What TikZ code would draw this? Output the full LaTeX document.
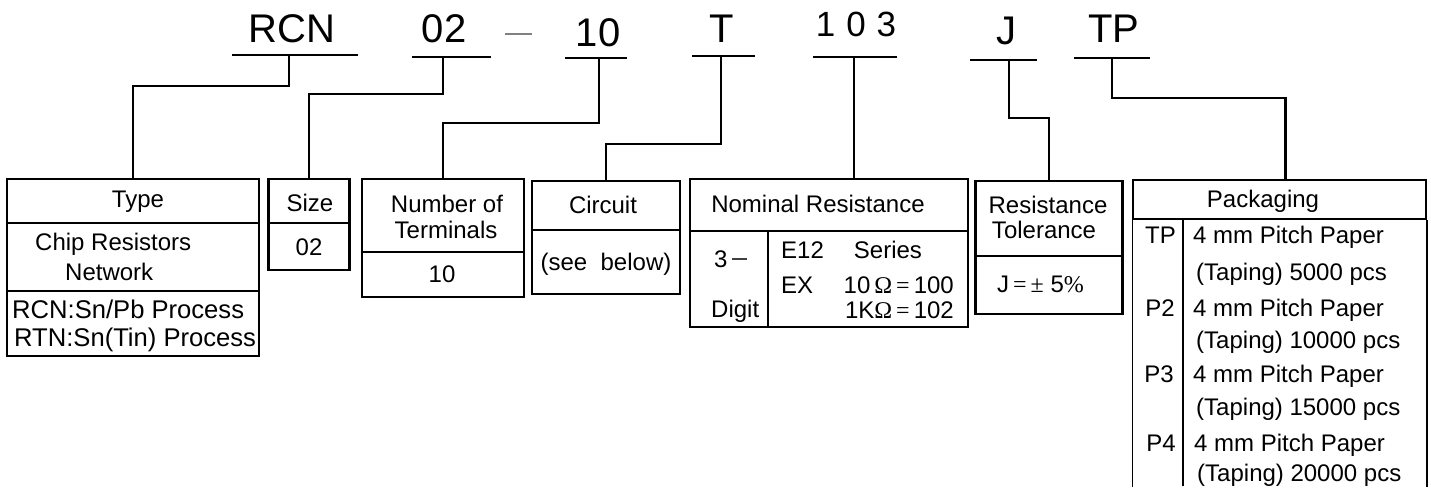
\documentclass[tikz,border=0pt]{standalone}
\usepackage{fontspec}
\setmainfont{Liberation Sans}
\newfontfamily\symfont{Liberation Serif}

\begin{document}
\begin{tikzpicture}[
    x=1pt, y=-1pt,
    code/.style={anchor=base, inner sep=0pt, font=\fontsize{40}{44}\selectfont},
    txt/.style={anchor=base, inner sep=0pt, font=\fontsize{24}{28}\selectfont},
    box/.style={draw, line width=2.8pt, inner sep=0pt},
    openbox/.style={draw, line width=1.5pt, inner sep=0pt},
    wire/.style={line width=2.8pt},
    fine/.style={line width=1.5pt}
]
\useasboundingbox (0,0) rectangle (1431,495);

% part number on top
\node[code] (rcn) at (292,42) {RCN};
\node[code] (size-code) at (444,42) {02};
\node[inner sep=0pt] (dash) at (518.5,34) {\color{gray}\rule{27pt}{1.3pt}};
\node[code] (term-code) at (598,47) {10};
\node[code] (circ-code) at (722,43) {T};
\node[code, font=\fontsize{35}{38}\selectfont] (res-code) at (856,37) {1\hspace{11pt}0\hspace{11pt}3};
\node[code] (tol-code) at (1006,45) {J};
\node[code] (pack-code) at (1114,42) {TP};

\draw[wire] (232,55) -- (358,55);
\draw[wire] (412,57) -- (491,57);
\draw[wire] (565,58) -- (627,58);
\draw[wire] (692,56) -- (755,56);
\draw[wire] (813,57) -- (897,57);
\draw[wire] (970,60) -- (1037,60);
\draw[wire] (1074,58) -- (1150,58);

\coordinate (rcn-tap) at (289,55);
\coordinate (size-tap) at (443,57);
\coordinate (term-tap) at (599,58);
\coordinate (circ-tap) at (721,56);
\coordinate (res-tap) at (854,57);
\coordinate (tol-tap) at (1009,60);
\coordinate (pack-tap) at (1112,58);

% boxes
\node[box, minimum width=252pt, minimum height=177pt] (type) at (133,267.5) {};
\node[box, minimum width=81pt, minimum height=91pt] (size) at (309,224.5) {};
\node[box, minimum width=162pt, minimum height=118pt] (term) at (443,238) {};
\node[box, minimum width=148pt, minimum height=113pt] (circ) at (606,237.5) {};
\node[box, minimum width=278pt, minimum height=148pt] (nom) at (829,253) {};
\node[box, minimum width=147pt, minimum height=133pt] (tol) at (1049,247.5) {};
\node[openbox, minimum width=293pt, minimum height=39pt] (pack) at (1279.5,199.5) {};

% dividers
\draw[wire] (type.west |- 0,223) -- (type.east |- 0,223);
\draw[wire] (type.west |- 0,291) -- (type.east |- 0,291);
\draw[wire] (size.west |- 0,223) -- (size.east |- 0,223);
\draw[wire] (term.west |- 0,252) -- (term.east |- 0,252);
\draw[wire] (circ.west |- 0,230) -- (circ.east |- 0,230);
\draw[wire] (nom.west |- 0,231) -- (nom.east |- 0,231);
\draw[wire] (768,231) -- (768,327);
\draw[wire] (tol.west |- 0,256) -- (tol.east |- 0,256);
\draw[fine] (pack.south west) -- ++(0,267);
\draw[fine] (pack.south east) -- ++(0,267);
\draw[fine] (1183,219) -- (1183,486);

% connectors
\draw[wire] (rcn-tap) -- ++(0,31) -| (type.north);
\draw[wire] (size-tap) -- ++(0,37) -| (size.north);
\draw[wire] (term-tap) -- ++(0,65) -| (term.north);
\draw[wire] (circ-tap) -- ++(0,88) -| (circ.north);
\draw[wire] (res-tap) -- (res-tap |- nom.north);
\draw[wire] (tol-tap) -- ++(0,58) -| (tol.north);
\draw[wire] (pack-tap) -- ++(0,40) -| ([xshift=6pt]pack.north);

% texts
\node[txt] (type-head) at (138,207) {Type};
\node[txt, anchor=base west] (type-l1) at (35,250) {Chip Resistors};
\node[txt, anchor=base west] (type-l2) at (65,280) {Network};
\node[txt, anchor=base west, font=\fontsize{25.6}{28}\selectfont] (type-l3) at (12,318) {RCN:Sn/Pb Process};
\node[txt, anchor=base west, font=\fontsize{25.6}{28}\selectfont] (type-l4) at (14,346) {RTN:Sn(Tin) Process};

\node[txt] (size-head) at (310,211) {Size};
\node[txt] (size-val) at (309,255) {02};

\node[txt] (term-h1) at (447,212) {Number of};
\node[txt] (term-h2) at (446,238) {Terminals};
\node[txt] (term-val) at (442,282) {10};

\node[txt] (circ-head) at (603,213) {Circuit};
\node[txt] (circ-val) at (606,270) {(see\ \ below)};

\node[txt] (nom-head) at (818,212) {Nominal Resistance};
\node[txt, anchor=base west] (nom-d1) at (714,267) {3\hspace{4pt}{\color{gray!50!black}\rule[7.5pt]{15pt}{1.2pt}}};
\node[txt, anchor=base west] (nom-d2) at (711,317) {Digit};
\node[txt, anchor=base west] (nom-s) at (781,258) {E12\hspace{30pt}Series};
\node[txt, anchor=base west] (nom-ex) at (781,293) {EX};
\node[txt, anchor=base east] (nom-e1) at (954,293) {10\,{\symfont Ω\,=\,}100};
\node[txt, anchor=base east] (nom-e2) at (954,318) {1K{\symfont Ω\,=\,}102};

\node[txt] (tol-h1) at (1048,213) {Resistance};
\node[txt] (tol-h2) at (1044,238) {Tolerance};
\node[txt, anchor=base west] (tol-val) at (997,292) {J{\symfont\,=\,±}\ 5{\symfont \%}};

\node[txt] (pack-head) at (1263,207) {Packaging};
\node[txt, anchor=base east] (pk1) at (1176,243) {TP};
\node[txt, anchor=base west] (pk1a) at (1193,243) {4 mm Pitch Paper};
\node[txt, anchor=base west] (pk1b) at (1196,280) {(Taping) 5000 pcs};
\node[txt, anchor=base east] (pk2) at (1175,316) {P2};
\node[txt, anchor=base west] (pk2a) at (1193,316) {4 mm Pitch Paper};
\node[txt, anchor=base west] (pk2b) at (1196,348) {(Taping) 10000 pcs};
\node[txt, anchor=base east] (pk3) at (1174,382) {P3};
\node[txt, anchor=base west] (pk3a) at (1193,382) {4 mm Pitch Paper};
\node[txt, anchor=base west] (pk3b) at (1196,415) {(Taping) 15000 pcs};
\node[txt, anchor=base east] (pk4) at (1176,451) {P4};
\node[txt, anchor=base west] (pk4a) at (1194,451) {4 mm Pitch Paper};
\node[txt, anchor=base west] (pk4b) at (1197,481) {(Taping) 20000 pcs};
\end{tikzpicture}
\end{document}
